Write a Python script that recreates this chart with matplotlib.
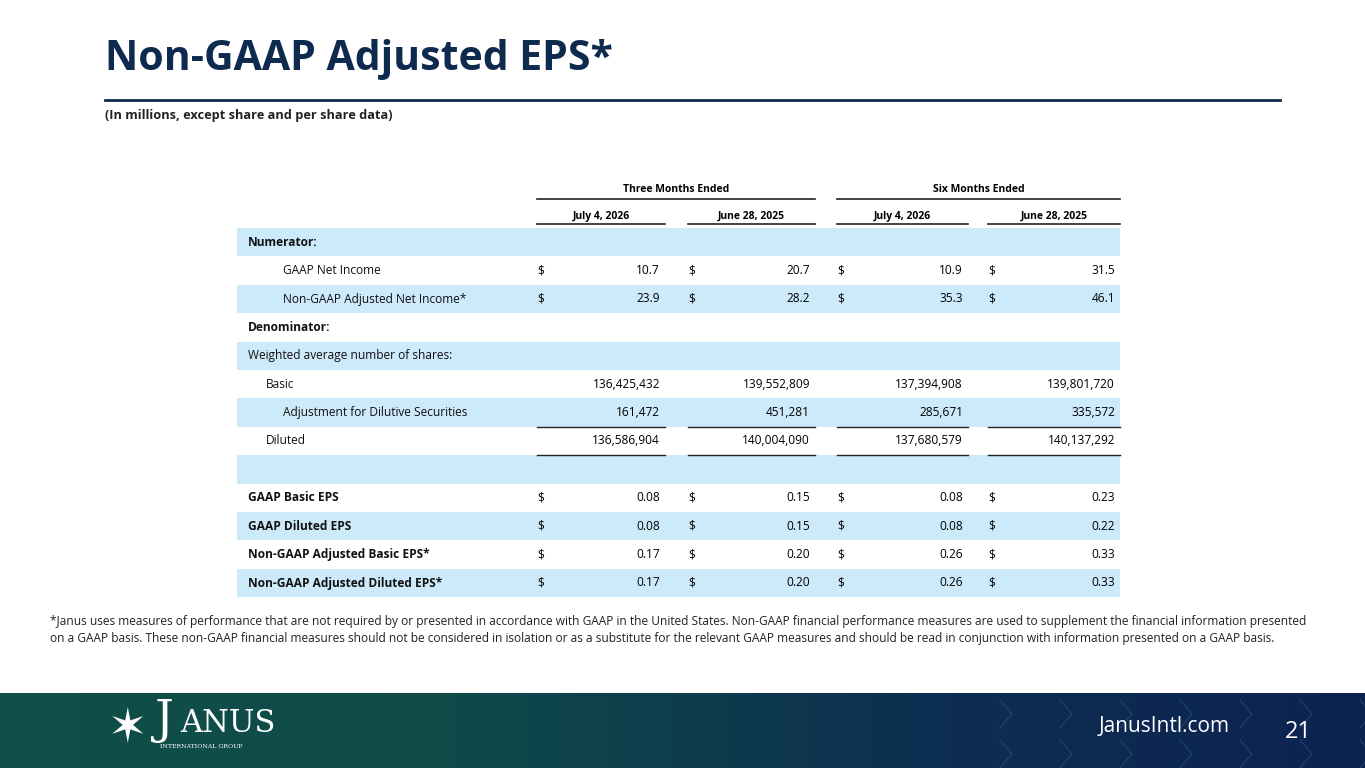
# eps_slide.py  (table slide rebuild)

import numpy as np
import matplotlib.pyplot as plt
from matplotlib.colors import LinearSegmentedColormap

# ==========================================================
# 1. DATA
# ==========================================================

periods = ["Three Months Ended", "Six Months Ended"]
dates = ["July 4, 2026", "June 28, 2025", "July 4, 2026", "June 28, 2025"]

row_labels = [
    "Numerator:", "GAAP Net Income", "Non-GAAP Adjusted Net Income*",
    "Denominator:", "Weighted average number of shares:", "Basic",
    "Adjustment for Dilutive Securities", "Diluted", "",
    "GAAP Basic EPS", "GAAP Diluted EPS",
    "Non-GAAP Adjusted Basic EPS*", "Non-GAAP Adjusted Diluted EPS*",
]
row_values = [
    None,
    ["10.7", "20.7", "10.9", "31.5"],
    ["23.9", "28.2", "35.3", "46.1"],
    None,
    None,
    ["136,425,432", "139,552,809", "137,394,908", "139,801,720"],
    ["161,472", "451,281", "285,671", "335,572"],
    ["136,586,904", "140,004,090", "137,680,579", "140,137,292"],
    None,
    ["0.08", "0.15", "0.08", "0.23"],
    ["0.08", "0.15", "0.08", "0.22"],
    ["0.17", "0.20", "0.26", "0.33"],
    ["0.17", "0.20", "0.26", "0.33"],
]
dollar_rows = [1, 2, 9, 10, 11, 12]
bold_rows = [0, 3, 9, 10, 11, 12]
shaded_rows = [0, 2, 4, 6, 8, 10, 12]
indent = {1: 35, 2: 35, 5: 18, 6: 35, 7: 18}   # pixels

# ==========================================================
# 2. LAYOUT
# ==========================================================

NAVY = "#0e2a4f"
SHADE = "#cdeafb"
FONT = "Open Sans"

col_left = [537, 688, 837, 988]
col_right = [665, 815, 968, 1120]
row_top = 228
row_h = 28.4

fig = plt.figure(figsize=(13.65, 7.68), dpi=100)
ax = fig.add_axes([0, 0, 1, 1])
ax.set_xlim(0, 1365)
ax.set_ylim(768, 0)
ax.axis("off")

# title block
ax.text(105, 60, "Non-GAAP Adjusted EPS*", fontsize=29.5, fontweight="bold",
        color=NAVY, family=FONT, va="center")
ax.plot([105, 1280], [100, 100], color=NAVY, lw=2)
ax.text(105, 116, "(In millions, except share and per share data)", fontsize=9.2,
        fontweight="bold", color="#222222", family=FONT, va="center")

# ==========================================================
# 3. TABLE
# ==========================================================

ax.text((col_left[0] + col_right[1]) / 2, 190, periods[0], fontsize=7.5,
        fontweight="bold", ha="center", va="center", family=FONT)
ax.text((col_left[2] + col_right[3]) / 2, 190, periods[1], fontsize=7.5,
        fontweight="bold", ha="center", va="center", family=FONT)
ax.plot([col_left[0], col_right[1]], [199, 199], color="#222222", lw=1.2)
ax.plot([col_left[2], col_right[3]], [199, 199], color="#222222", lw=1.2)

for i, d in enumerate(dates):
    ax.text((col_left[i] + col_right[i]) / 2, 216, d, fontsize=7.5, fontweight="bold",
            ha="center", va="center", family=FONT)
    ax.plot([col_left[i], col_right[i]], [224, 224], color="#222222", lw=1.2)

for r, label in enumerate(row_labels):
    top = row_top + r * row_h
    yc = top + row_h / 2
    if r in shaded_rows:
        ax.add_patch(plt.Rectangle((237, top), 1120 - 237, row_h, color=SHADE, lw=0))
    weight = "bold" if r in bold_rows else "normal"
    ax.text(248 + indent.get(r, 0), yc, label, fontsize=8.6, fontweight=weight,
            va="center", family=FONT, color="#111111")
    vals = row_values[r]
    if vals is None:
        continue
    for i, v in enumerate(vals):
        if r in dollar_rows:
            ax.text(col_left[i], yc, "$", fontsize=8.6, va="center", family=FONT)
        ax.text(col_right[i] - 5, yc, v, fontsize=8.6, va="center", ha="right", family=FONT)
    if r in (6, 7):   # underline totals
        for i in range(4):
            ax.plot([col_left[i], col_right[i]], [top + row_h, top + row_h],
                    color="#222222", lw=1)

# footnote
ax.text(50, 630,
        "*Janus uses measures of performance that are not required by or presented in accordance with GAAP in the United States. "
        "Non-GAAP financial performance measures are used to supplement the financial information presented\n"
        "on a GAAP basis. These non-GAAP financial measures should not be considered in isolation or as a substitute for the "
        "relevant GAAP measures and should be read in conjunction with information presented on a GAAP basis.",
        fontsize=8.6, va="center", family=FONT, color="#222222", linespacing=1.45)

# ==========================================================
# 4. FOOTER BAND
# ==========================================================

grad = np.linspace(0, 1, 256).reshape(1, -1)
band = LinearSegmentedColormap.from_list("band", ["#0f5048", "#0f4a4a", "#0d2f50", "#0c2352"])
ax.imshow(grad, cmap=band, extent=[0, 1365, 768, 693], aspect="auto", zorder=0)
for x in range(1000, 1400, 60):   # faint chevrons
    for y0 in (700, 740):
        ax.plot([x, x + 12, x], [y0, y0 + 14, y0 + 28], color="#3a5a80", lw=1, alpha=0.45)
ax.set_xlim(0, 1365)
ax.set_ylim(768, 0)

ax.text(155, 720, "J", fontsize=34, family="DejaVu Serif", color="white", va="center")
ax.text(180, 724, "ANUS", fontsize=22, family="DejaVu Serif", color="white", va="center")
ax.text(160, 746, "INTERNATIONAL GROUP", fontsize=4.5, family="DejaVu Serif", color="white",
        va="center")
ax.text(128, 730, "\u2736", fontsize=34, color="white", ha="center", va="center",
        family="DejaVu Sans")
ax.text(1230, 727, "JanusIntl.com", fontsize=15, color="white", ha="right", va="center",
        family=FONT)
ax.text(1312, 732, "21", fontsize=17, color="white", ha="right", va="center", family=FONT)

plt.savefig("out.png", dpi=100)
